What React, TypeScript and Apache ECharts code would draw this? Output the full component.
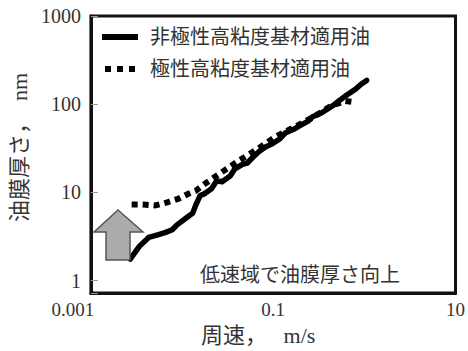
import React, { useEffect, useRef } from "react";
import * as echarts from "echarts";

// Nonpolar high-viscosity base oil (solid line)
const nonpolarSpeed = [0.0027, 0.0034, 0.0043, 0.0054, 0.0065, 0.0078, 0.0088, 0.0111, 0.0131, 0.0141, 0.0158, 0.0175, 0.021, 0.024, 0.0275, 0.0337, 0.038, 0.046, 0.052, 0.061, 0.07, 0.083, 0.095, 0.118, 0.135, 0.168, 0.19, 0.239, 0.27, 0.341, 0.38, 0.464, 0.52, 0.617, 0.7, 0.818, 0.92, 1.06];
const nonpolarFilm = [1.75, 2.44, 3.08, 3.3, 3.49, 3.77, 4.28, 5.12, 5.81, 7.12, 9.19, 9.6, 11.0, 13.5, 13.2, 15.3, 18.5, 20.8, 21.5, 25.5, 29, 32.8, 35, 40.3, 47, 51.9, 56, 63.7, 72, 80, 86, 98.2, 108, 123.5, 135, 151, 168, 186];

// Polar high-viscosity base oil (dotted line)
const polarSpeed = [0.0028, 0.0037, 0.0051, 0.0069, 0.0092, 0.0119, 0.0141, 0.0178, 0.0254, 0.0407, 0.0653, 0.105, 0.168, 0.27, 0.433, 0.617, 0.745];
const polarFilm = [7.3, 7.3, 7.1, 7.7, 8.5, 9.7, 10.4, 12.5, 16.1, 22.4, 30.4, 42.4, 54.6, 70.5, 95.7, 108.7, 106];

const seriesNames = ["非極性高粘度基材適用油", "極性高粘度基材適用油"];
const xTickLabels = ["0.001", "0.1", "10"];
const yTickLabels = ["1", "10", "100", "1000"];
const xTitle = "周速，　 m/s";
const yTitle = "油膜厚さ，　nm";
const noteText = "低速域で油膜厚さ向上";

const FONT = "'Liberation Serif', 'Noto Sans CJK JP', serif";

export default function App() {
  const ref = useRef<HTMLDivElement>(null);
  useEffect(() => {
    if (!ref.current) return;
    const chart = echarts.init(ref.current, null, { renderer: "svg" });
    const pair = (xs: number[], ys: number[]) => xs.map((x, i) => [x, ys[i]]);
    const isPow = (v: number) => Math.abs(Math.log10(v) - Math.round(Math.log10(v))) < 1e-6;
    chart.setOption({
      animation: false,
      backgroundColor: "#fff",
      grid: { left: 88, top: 16, width: 390, height: 284, show: true, borderWidth: 3, borderColor: "#111" },
      legend: {
        orient: "vertical",
        left: 97,
        top: 22,
        itemWidth: 36,
        itemHeight: 6,
        itemGap: 12,
        data: [
          { name: seriesNames[0], icon: "path://M0,0H36V6H0Z" },
          { name: seriesNames[1], icon: "path://M0,0H6V6H0Z M12,0H18V6H12Z M24,0H30V6H24Z" },
        ],
        itemStyle: { color: "#000" },
        textStyle: { fontSize: 20, fontFamily: FONT, color: "#333", padding: [0, 0, 0, 7] },
      },
      xAxis: {
        type: "log",
        logBase: 10,
        min: 0.001,
        max: 10,
        name: xTitle,
        nameLocation: "middle",
        nameGap: 25,
        nameTextStyle: { fontSize: 22, fontFamily: FONT, color: "#333", padding: [0, 30, 0, 0] },
        axisLine: { show: true, lineStyle: { color: "#111", width: 3 } },
        axisTick: { show: false },
        splitLine: { show: false },
        axisLabel: {
          margin: 7,
          fontSize: 19,
          fontFamily: FONT,
          color: "#333",
          formatter: (v: number) => {
            if (!isPow(v)) return "";
            const e = Math.round(Math.log10(v));
            if (e === -3) return "{a|" + xTickLabels[0] + "}";
            if (e === -1) return xTickLabels[1];
            if (e === 1) return xTickLabels[2];
            return "";
          },
          rich: {
            a: { fontSize: 19, fontFamily: FONT, color: "#333", padding: [0, 36, 0, 0] },
          },
        },
      },
      yAxis: {
        type: "log",
        logBase: 10,
        min: 0.72,
        max: 1000,
        name: yTitle,
        nameLocation: "middle",
        nameGap: 55,
        nameTextStyle: { fontSize: 22, fontFamily: FONT, color: "#333", padding: [0, 0, 0, 14] },
        axisLine: { show: true, lineStyle: { color: "#111", width: 3 } },
        axisTick: { show: true, inside: true, length: 7, lineStyle: { color: "#999", width: 1 } },
        splitLine: { show: false },
        axisLabel: {
          margin: 10,
          fontSize: 20,
          fontFamily: FONT,
          color: "#333",
          formatter: (v: number) => {
            if (!isPow(v)) return "";
            const e = Math.round(Math.log10(v));
            return e >= 0 && e <= 3 ? yTickLabels[e] : "";
          },
        },
      },
      graphic: [
        {
          type: "polygon",
          shape: {
            points: [
              [118, 210],
              [143, 232],
              [130, 232],
              [130, 260],
              [106, 260],
              [106, 232],
              [94, 232],
            ],
          },
          style: { fill: "#ababab", stroke: "#555", lineWidth: 1.5 },
          z: 10,
        },
        {
          type: "text",
          left: 200,
          top: 265,
          style: { text: noteText, fontSize: 20, fontFamily: FONT, fill: "#333" },
          z: 10,
        },
      ],
      series: [
        {
          name: seriesNames[0],
          type: "line",
          symbol: "none",
          data: pair(nonpolarSpeed, nonpolarFilm),
          lineStyle: { color: "#000", width: 5.5, join: "round", cap: "round" },
          itemStyle: { color: "#000" },
          z: 3,
        },
        {
          name: seriesNames[1],
          type: "line",
          symbol: "none",
          data: pair(polarSpeed, polarFilm),
          lineStyle: { color: "#000", width: 6, type: [6, 5], cap: "butt" },
          itemStyle: { color: "#000" },
          z: 4,
        },
      ],
    });
    return () => chart.dispose();
  }, []);
  return <div ref={ref} style={{ position: "absolute", left: 0, top: 0, width: 468, height: 351 }} />;
}
